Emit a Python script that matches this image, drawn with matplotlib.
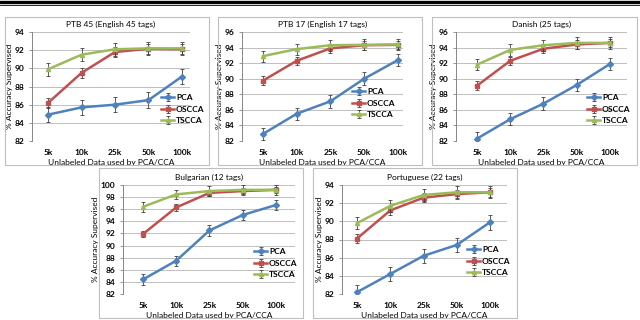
import matplotlib
matplotlib.use('Agg')
import matplotlib.pyplot as plt
from matplotlib.patches import Rectangle
from matplotlib.lines import Line2D

# data
sizes = ['5k', '10k', '25k', '50k', '100k']
series = ['PCA', 'OSCCA', 'TSCCA']
titles = ['PTB 45 (English 45 tags)', 'PTB 17 (English 17 tags)', 'Danish (25 tags)',
          'Bulgarian (12 tags)', 'Portuguese (22 tags)']

pca = [[84.9, 85.7, 86.0, 86.5, 89.1],
       [82.9, 85.5, 87.1, 90.0, 92.4],
       [82.3, 84.8, 86.8, 89.2, 91.9],
       [84.4, 87.5, 92.5, 95.05, 96.7],
       [82.2, 84.2, 86.2, 87.4, 89.9]]
oscca = [[86.2, 89.5, 91.8, 92.15, 92.1],
         [89.75, 92.3, 93.9, 94.3, 94.35],
         [89.1, 92.3, 93.85, 94.4, 94.6],
         [91.9, 96.3, 98.7, 99.0, 99.2],
         [88.1, 91.2, 92.6, 93.0, 93.2]]
tscca = [[89.9, 91.5, 92.1, 92.2, 92.2],
         [92.9, 93.8, 94.3, 94.35, 94.4],
         [91.8, 93.7, 94.3, 94.6, 94.6],
         [96.4, 98.45, 99.0, 99.2, 99.2],
         [89.8, 91.7, 92.9, 93.2, 93.2]]
# error bar half-widths per panel: PCA, OSCCA, TSCCA
errs = [[0.85, 0.55, 0.7],
        [0.8, 0.55, 0.7],
        [0.8, 0.55, 0.73],
        [0.85, 0.55, 0.8],
        [0.8, 0.5, 0.66]]
yranges = [(82, 94), (82, 96), (82, 96), (82, 100), (82, 94)]

colors = ['#4F81BD', '#C0504D', '#9BBB59']
markers = ['D', 's', '^']

# layout in pixels (640x320 canvas)
boxes = [(5, 17, 209, 165), (218, 17, 422, 165), (432, 17, 637, 165),
         (99, 168, 303, 318), (313, 168, 517, 318)]
axrects = [(32, 32, 190, 141), (242, 32, 403, 141), (456, 32, 627, 141),
           (123, 185, 295, 294), (342, 185, 507, 294)]
xlims = [(-0.48, 4.24), (-0.62, 4.15), (-0.63, 4.51), (-0.6, 4.57), (-0.45, 4.51)]
legpos = [(161, 94), (352, 88), (587, 94), (254, 248), (467, 246)]

W, H = 640, 320
plt.rcParams['font.family'] = ['Lato', 'DejaVu Sans']
plt.rcParams['font.weight'] = 'bold'
fig = plt.figure(figsize=(6.4, 3.2), dpi=100)


def fx(x):
    return x / W


def fy(y):
    return 1 - y / H


# top rule
fig.add_artist(Line2D([0, 1], [fy(1.5), fy(1.5)], color='black', lw=2.4))
fig.add_artist(Line2D([0, 1], [fy(4.5), fy(4.5)], color='black', lw=0.6))

for i in range(5):
    bx0, by0, bx1, by1 = boxes[i]
    fig.add_artist(Rectangle((fx(bx0), fy(by1)), fx(bx1 - bx0), (by1 - by0) / H,
                             transform=fig.transFigure, fill=False,
                             edgecolor='#BFBFBF', lw=0.8))
    x0, y0, x1, y1 = axrects[i]
    ax = fig.add_axes([fx(x0), fy(y1), fx(x1 - x0), (y1 - y0) / H])
    ys = [pca[i], oscca[i], tscca[i]]
    xs = range(len(sizes))
    for k in range(3):
        ax.errorbar(xs, ys[k], yerr=errs[i][k], color=colors[k], lw=1.8,
                    marker=markers[k], ms=3, mec=colors[k],
                    ecolor='#404040', elinewidth=0.6, capsize=1.6, capthick=0.6,
                    label=series[k], zorder=3 + k)
    lo, hi = yranges[i]
    ax.set_ylim(lo, hi)
    ax.set_yticks(range(lo, hi + 1, 2))
    ax.set_xlim(*xlims[i])
    ax.set_xticks(list(xs))
    ax.set_xticklabels(sizes)
    ax.grid(axis='y', color='#BFBFBF', lw=0.7)
    ax.set_axisbelow(True)
    for s in ['top', 'right', 'bottom']:
        ax.spines[s].set_visible(False)
    ax.spines['left'].set_color('#868686')
    ax.spines['left'].set_linewidth(0.7)
    ax.tick_params(axis='y', labelsize=6, length=2.5, width=0.6, color='#868686', pad=3)
    ax.tick_params(axis='x', labelsize=6, length=0, pad=6)
    ax.set_title(titles[i], fontsize=6, pad=4)
    ax.set_xlabel('Unlabeled Data used by PCA/CCA', fontsize=6, labelpad=2)
    ax.set_ylabel('% Accuracy Supervised', fontsize=6, labelpad=1)
    lx, ly = legpos[i]
    handles, labels = ax.get_legend_handles_labels()
    leg = ax.legend(handles, labels, loc='upper left', bbox_to_anchor=(fx(lx), fy(ly)),
                    bbox_transform=fig.transFigure, frameon=False, fontsize=6,
                    handlelength=1.6, handletextpad=0.2, labelspacing=0.55,
                    borderpad=0, borderaxespad=0)

fig.savefig('out.png', dpi=100)
